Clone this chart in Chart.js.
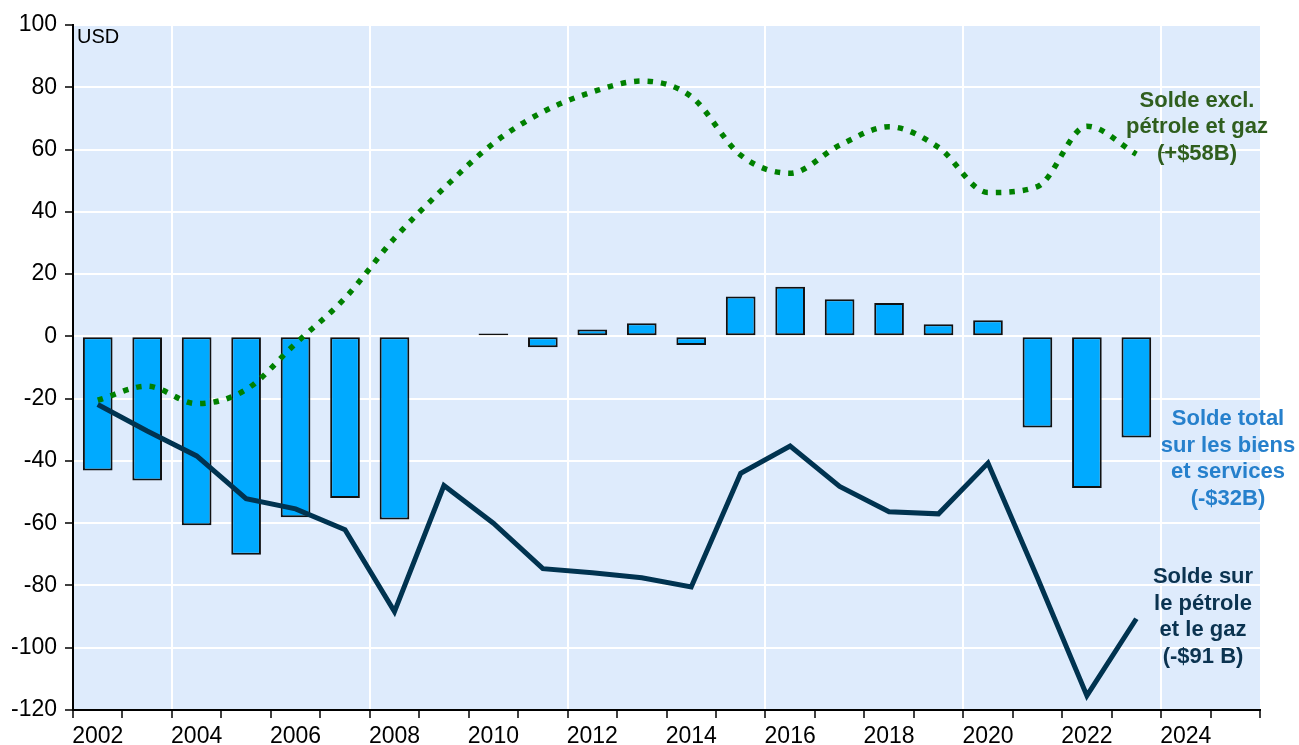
<!DOCTYPE html>
<html>
<head>
<meta charset="utf-8">
<script src="https://cdn.jsdelivr.net/npm/chart.js@4.4.1/dist/chart.umd.min.js"></script>
<style>
  html, body { margin: 0; padding: 0; background: #fff; }
  #wrap { width: 1299px; height: 745px; }
</style>
</head>
<body>
<div id="wrap"><canvas id="chart" width="1299" height="745"></canvas></div>
<script>
const years = ['2002','2003','2004','2005','2006','2007','2008','2009','2010','2011','2012','2013',
  '2014','2015','2016','2017','2018','2019','2020','2021','2022','2023','2024','2025'];

// Solde total sur les biens et services (barres)
const totalBalance = [-43.1, -46.3, -60.7, -70.1, -58.1, -51.9, -58.8, null, 0.9, -3.5, 2.2, 4.2,
  -2.8, 12.8, 15.9, 11.9, 10.7, 3.9, 5.2, -29.3, -48.7, -32.5];

// Solde sur le pétrole et le gaz
const oilGasBalance = [-21.9, -30.4, -38.4, -52.1, -55.4, -62.1, -88.4, -47.9, -60, -74.6, -75.9, -77.5,
  -80.5, -44, -35.2, -48.2, -56.3, -57, -40.7, -77.5, -115.4, -90.7];

// Solde excl. pétrole et gaz
const nonOilBalance = [-20.5, -16, -21.6, -17.1, -2.3, 12.3, 31.5, 47.6, 62, 72.1, 78.5, 82,
  77, 58.2, 52.4, 61.4, 67.3, 60.7, 46.2, 48.1, 67.5, 58.5];

const yTicks = [-120, -100, -80, -60, -40, -20, 0, 20, 40, 60, 80, 100];

const FONT = '"Liberation Sans", Arial, sans-serif';

const notes = [
  { color: '#2f5e1e', x: 1197, y: 106.5, lines: ['Solde excl.', 'pétrole et gaz', '(+$58B)'] },
  { color: '#2680cc', x: 1228, y: 425, lines: ['Solde total', 'sur les biens', 'et services', '(-$32B)'] },
  { color: '#0b3350', x: 1203, y: 583, lines: ['Solde sur', 'le pétrole', 'et le gaz', '(-$91 B)'] }
];

const plotBg = {
  id: 'plotBg',
  beforeDraw(chart) {
    const { ctx, chartArea: a } = chart;
    ctx.save();
    ctx.fillStyle = '#deebfc';
    ctx.fillRect(a.left, a.top, a.right - a.left, a.bottom - a.top);
    ctx.restore();
  },
  afterDraw(chart) {
    const { ctx, chartArea: a } = chart;
    ctx.save();
    ctx.fillStyle = '#000';
    ctx.font = '20px ' + FONT;
    ctx.textAlign = 'left';
    ctx.textBaseline = 'alphabetic';
    ctx.fillText('USD', a.left + 4, 43);

    ctx.font = 'bold 22px ' + FONT;
    ctx.textAlign = 'center';
    notes.forEach(n => {
      ctx.fillStyle = n.color;
      n.lines.forEach((t, i) => ctx.fillText(t, n.x, n.y + i * 26.5));
    });
    ctx.fillStyle = '#2f5e1e';
    ctx.font = '14px ' + FONT;
    ctx.fillText('-', 1163, 157);
    ctx.restore();
  }
};

new Chart(document.getElementById('chart'), {
  type: 'bar',
  data: {
    labels: years,
    datasets: [
      {
        type: 'line', label: 'Solde sur le pétrole et le gaz', data: oilGasBalance,
        borderColor: '#003350', borderWidth: 5, pointRadius: 0, tension: 0, order: 1
      },
      {
        type: 'line', label: 'Solde excl. pétrole et gaz', data: nonOilBalance,
        borderColor: '#008000', borderWidth: 5.5, borderDash: [5.5, 8], borderCapStyle: 'butt',
        pointRadius: 0, cubicInterpolationMode: 'monotone', order: 2
      },
      {
        label: 'Solde total sur les biens et services', data: totalBalance,
        backgroundColor: '#00aaff', borderColor: '#111', borderWidth: 2, borderSkipped: false,
        barPercentage: 0.6, categoryPercentage: 1, order: 3
      }
    ]
  },
  options: {
    responsive: false,
    animation: false,
    layout: { padding: { top: 25, right: 39, left: 0, bottom: 0 } },
    plugins: { legend: { display: false }, tooltip: { enabled: false } },
    scales: {
      x: {
        offset: true,
        grid: {
          offset: true,
          color: c => (c.index % 4 === 2 ? '#ffffff' : 'rgba(0,0,0,0)'),
          lineWidth: 2,
          tickColor: '#000',
          tickWidth: 1.5,
          tickLength: 8
        },
        border: { display: true, color: '#000', width: 2 },
        ticks: {
          autoSkip: false, maxRotation: 0, padding: 5, color: '#000',
          font: { family: FONT, size: 23 },
          callback: (v, i) => (i % 2 === 0 ? years[i] : '')
        },
        afterFit: s => { s.height = 35; }
      },
      y: {
        min: -120, max: 100,
        afterBuildTicks: s => { s.ticks = yTicks.map(v => ({ value: v })); },
        grid: { color: '#ffffff', lineWidth: 2, tickColor: '#000', tickWidth: 1.5, tickLength: 8 },
        border: { display: true, color: '#000', width: 2 },
        ticks: { padding: 8, color: '#000', font: { family: FONT, size: 23 } },
        afterFit: s => { s.width = 73; }
      }
    }
  },
  plugins: [plotBg]
});
</script>
</body>
</html>
